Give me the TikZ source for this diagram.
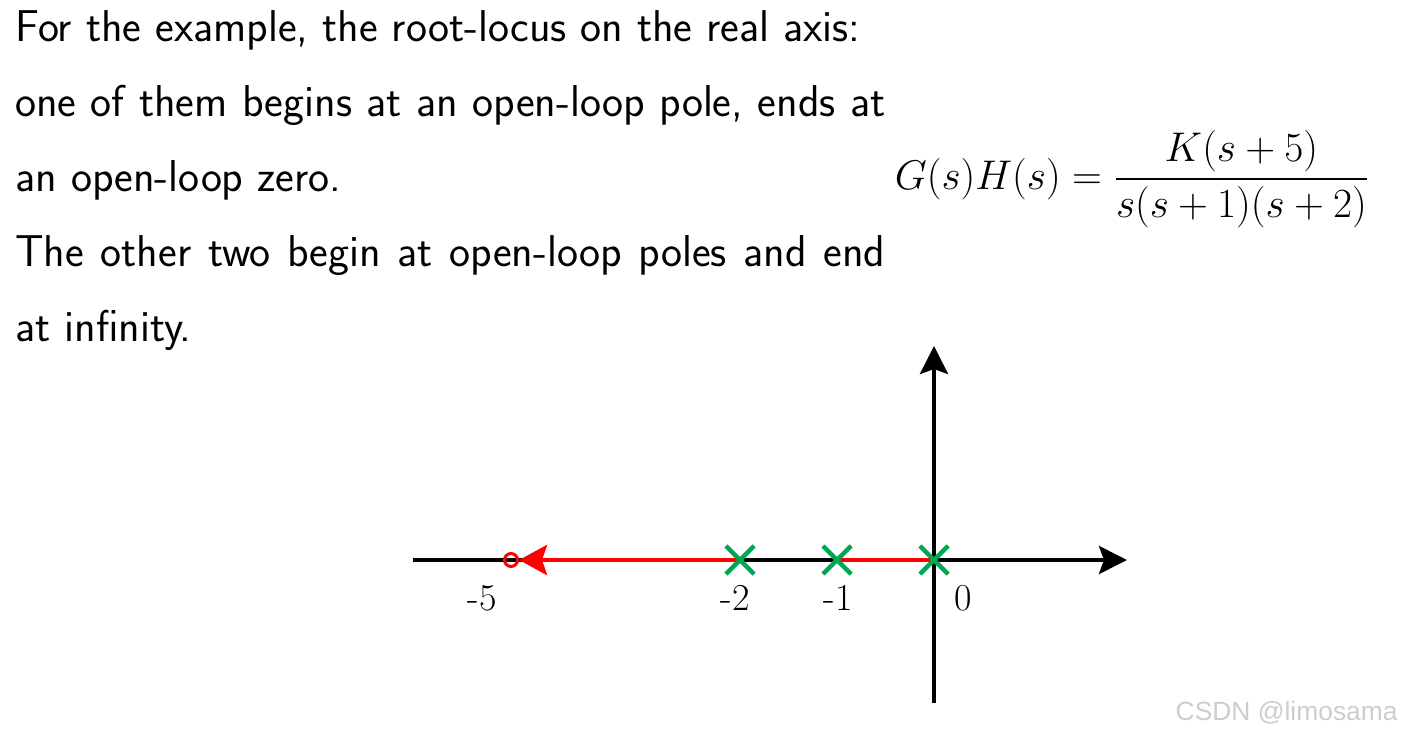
\documentclass[tikz,border=0pt]{standalone}
\usepackage{amsmath}
\usepackage{fontspec}
\newfontfamily\wmfont{Liberation Sans}
\definecolor{rlred}{RGB}{255,0,0}
\definecolor{rlgreen}{RGB}{0,166,81}
\definecolor{wmgray}{RGB}{205,205,205}
\usetikzlibrary{arrows.meta,positioning,shapes.misc}

\begin{document}
\begin{tikzpicture}[x=0.5pt, y=-0.5pt,
  axarr/.style={-{Stealth[length=14pt, width=14pt, inset=2.5pt]}, line width=2pt, black},
  locus/.style={line width=2pt, draw=rlred},
  pole/.style={cross out, draw=rlgreen, line width=2pt, minimum size=14pt,
               inner sep=0pt, outer sep=0pt},
  zero/.style={circle, draw=rlred, line width=1.5pt, minimum size=6.5pt,
               inner sep=0pt},
  tick/.style={font=\fontsize{19}{19}\selectfont, anchor=base}
]
\useasboundingbox (0,0) rectangle (1403,739);

% Text
\node[anchor=north west, inner sep=0pt, text width=435pt, align=justify,
      font=\sffamily\fontsize{22.3}{37.5}\selectfont] (txt) at (15,10)
  {For the example, the root-locus on the real axis:\\
   one of them begins at an open-loop pole, ends at an open-loop zero.\\
   The other two begin at open-loop poles and end at infinity.};

% Transfer function
\node[font=\fontsize{21.8}{21.8}\selectfont, inner sep=0pt] (tf) at (1132,179)
  {$\displaystyle G(s)H(s)=\frac{K(s+5)}{s(s+1)(s+2)}$};

% Axes
\coordinate (o)  at (934,560);
\coordinate (xl) at (413,560);
\coordinate (xr) at (1127,560);
\coordinate (yb) at (934,703);
\coordinate (yt) at (934,346);
\draw[axarr] (xl) -- (xr);
\draw[axarr] (yb) -- (yt);

% Poles and zero
\node[pole] (p0) at (934,560) {};
\node[pole] (p1) at (837,560) {};
\node[pole] (p2) at (740,560) {};
\node[zero] (z5) at (511,560) {};

% Root locus
\draw[locus] (p1.center) -- (p0.center);
\draw[locus, -{Stealth[length=14pt, width=15pt, inset=2.5pt]}] (p2.center) -- (z5.east);
\node[pole] at (p2) {};
\node[pole] at (p1) {};
\node[pole] at (p0) {};

% Tick labels
\node[tick] (l5) at (482,610) {-5};
\node[tick] (l2) at (735,610) {-2};
\node[tick] (l1) at (838,610) {-1};
\node[tick] (l0) at (963,610) {0};

% Watermark
\node[anchor=east, inner sep=0pt, text=wmgray, font=\wmfont\fontsize{13.2}{13.2}\selectfont] (wm) at (1398,713) {CSDN @limosama};
\end{tikzpicture}
\end{document}
